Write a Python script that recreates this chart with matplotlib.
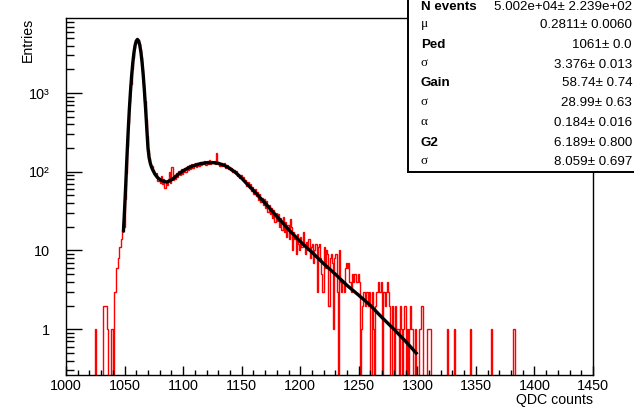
import numpy as np
import matplotlib
matplotlib.use("Agg")
import matplotlib.pyplot as plt
from matplotlib.patches import Rectangle
from matplotlib.ticker import FixedLocator, FixedFormatter, NullFormatter

plt.rcParams['font.family'] = ['Liberation Sans', 'DejaVu Sans']

# ---------------- data ----------------
hist_start = 1024  # first bin lower edge of `counts` (bin width 1)
counts = [
    0, 1, 0, 0, 0, 0, 0, 0, 2, 2,            # 1024-1033
    2, 1, 0, 0, 1, 1, 0, 3, 3, 6,            # 1034-1043
    8, 11, 11, 14, 17, 20, 45, 97, 205, 420,  # 1044-1053
    780, 1290, 2010, 2800, 3680, 4330, 4760, 4730, 4380, 3640,  # 1054-1063
    2850, 1980, 1310, 790, 470, 285, 190, 148, 126, 120,  # 1064-1073
    104, 95, 88, 97, 76, 84, 72, 88, 70, 81,  # 1074-1083
    63, 77, 68, 82, 100, 71, 115, 78, 92, 80,  # 1084-1093
    96, 86, 101, 90, 108, 94, 99, 112, 98, 118,  # 1094-1103
    104, 121, 109, 126, 111, 117, 130, 114, 128, 119,  # 1104-1113
    135, 121, 133, 124, 138, 122, 136, 127, 140, 126,  # 1114-1123
    134, 129, 139, 124, 172, 126, 133, 120, 131, 118,  # 1124-1133
    126, 129, 113, 122, 108, 116, 104, 112, 99, 106,  # 1134-1143
    96, 101, 89, 95, 84, 90, 78, 86, 74, 79,  # 1144-1153
    66, 75, 62, 70, 57, 64, 52, 61, 49, 56,  # 1154-1163
    44, 52, 41, 47, 38, 45, 35, 42, 31, 38,  # 1164-1173
    29, 35, 26, 33, 23, 30, 24, 29, 20, 26,  # 1174-1183
    18, 27, 17, 23, 15, 21, 14, 25, 20, 10,  # 1184-1193
    17, 14, 9, 16, 12, 10, 15, 11, 17, 12,   # 1194-1203
    9, 13, 10, 14, 8, 11, 12, 7, 10, 12,     # 1204-1213
    3, 11, 12, 8, 5, 3, 11, 6, 10, 9,        # 1214-1223
    2, 8, 9, 7, 1, 8, 9, 3, 0, 10,           # 1224-1233
    4, 3, 4, 3, 6, 7, 6, 7, 4, 3,            # 1234-1243
    5, 4, 5, 5, 4, 5, 4, 0, 1, 2,            # 1244-1253
    3, 2, 3, 3, 2, 3, 0, 3, 1, 0,            # 1254-1263
    2, 3, 4, 3, 3, 4, 0, 3, 2, 3,            # 1264-1273
    4, 3, 2, 0, 2, 1, 0, 2, 1, 1,            # 1274-1283
    0, 2, 1, 0, 1, 2, 0, 1, 0, 1,            # 1284-1293
    2, 1, 0, 0, 1, 0, 0, 1, 1, 2,            # 1294-1303
    2, 0, 0, 0, 1, 1, 1, 1, 0, 0,            # 1304-1313
]
tail_bins = [1325, 1331, 1345, 1363, 1382]
tail_counts = [1, 1, 1, 1, 1]

# fit curve
curve_x = [1049, 1050, 1051, 1052, 1053, 1054, 1055, 1056, 1057, 1058,
           1059, 1060, 1061, 1062, 1063, 1064, 1065, 1066, 1067, 1068,
           1069, 1070, 1071, 1072, 1073, 1074, 1076, 1078, 1080, 1083,
           1086, 1089, 1092, 1096, 1100, 1105, 1110, 1115, 1120, 1125,
           1130, 1135, 1140, 1145, 1150, 1155, 1160, 1165, 1170, 1175,
           1180, 1185, 1190, 1195, 1200, 1210, 1220, 1230, 1240, 1250,
           1260, 1270, 1280, 1290, 1300]
curve_y = [17, 33, 68, 150, 310, 590, 1020, 1630, 2400, 3250,
           4040, 4590, 4800, 4600, 4050, 3270, 2420, 1650, 1040, 620,
           350, 200, 150, 128, 115, 106, 93, 85, 80, 76,
           74, 77, 83, 93, 103, 113, 121, 127, 130, 131,
           128, 121, 110, 97, 83, 69, 58, 48, 40, 33,
           27, 22.5, 18.5, 15.5, 13, 9.5, 6.8, 5.0, 3.6, 2.7,
           2.0, 1.4, 1.0, 0.7, 0.48]

stat_labels = ["N events", "\u03bc", "Ped", "\u03c3", "Gain", "\u03c3", "\u03b1", "G2", "\u03c3"]
stat_values = ["5.002e+04\u00b1 2.239e+02", "0.2811\u00b1 0.0060", "1061\u00b1 0.0",
               "3.376\u00b1 0.013", "58.74\u00b1 0.74", "28.99\u00b1 0.63",
               "0.184\u00b1 0.016", "6.189\u00b1 0.800", "8.059\u00b1 0.697"]

x_min, x_max = 1000, 1450
y_min, y_max = 0.262, 8980

# ---------------- figure ----------------
W, H = 634, 413
fig = plt.figure(figsize=(W / 100, H / 100), dpi=100)
ax = fig.add_axes([66 / W, 1 - 375 / H, (593 - 66) / W, (375 - 18) / H])

full = np.zeros(x_max - x_min)
full[hist_start - x_min: hist_start - x_min + len(counts)] = counts
for b, c in zip(tail_bins, tail_counts):
    full[b - x_min] = c
edges = np.arange(x_min, x_max + 1)
draw_vals = np.where(full > 0, full, 1e-3)
ax.stairs(draw_vals, edges, color='#ff0000', lw=1.0, baseline=None)

ax.plot(curve_x, curve_y, color='black', lw=2.4, solid_capstyle='butt')

ax.set_yscale('log')
ax.set_xlim(x_min, x_max)
ax.set_ylim(y_min, y_max)

# ticks (ROOT style)
ax.xaxis.set_major_locator(FixedLocator(np.arange(1000, 1451, 50)))
ax.xaxis.set_minor_locator(FixedLocator(np.arange(1000, 1451, 10)))
ax.yaxis.set_major_locator(FixedLocator([1, 10, 100, 1000]))
ax.yaxis.set_major_formatter(FixedFormatter(["1", "10", "10\u00b2", "10\u00b3"]))
minors = [m * 10.0 ** e for e in range(-1, 4) for m in range(2, 10)]
ax.yaxis.set_minor_locator(FixedLocator(minors))
ax.yaxis.set_minor_formatter(NullFormatter())
ax.tick_params(axis='x', which='major', direction='in', length=6.5, width=1.0,
               labelsize=10.4, pad=3, top=False)
ax.tick_params(axis='x', which='minor', direction='in', length=3.3, width=1.0, top=False)
ax.tick_params(axis='y', which='major', direction='in', length=11.5, width=1.0,
               labelsize=10.4, pad=11.5, right=False)
ax.tick_params(axis='y', which='minor', direction='in', length=5.8, width=1.0, right=False)
for s in ax.spines.values():
    s.set_linewidth(1.0)

fig.text(27.5 / W, 1 - 18 / H, "Entries", rotation=90, ha='center', va='top', fontsize=10.2)
fig.text(593 / W, 1 - 400 / H, "QDC counts", ha='right', va='center', fontsize=10.2)

# ---------------- stats box ----------------
bx0, by1 = 407, 173
sax = fig.add_axes([bx0 / W, 1 - by1 / H, (W - bx0) / W, by1 / H])
sax.set_xlim(bx0, W)
sax.set_ylim(by1, 0)
sax.axis('off')
sax.add_patch(Rectangle((bx0 + 0.8, -5), 300, by1 - 0.8 + 5 - 0.5, facecolor='white',
                        edgecolor='black', lw=1.4, clip_on=False))
row_y = [7, 25.5, 45, 64.5, 83.5, 103, 123, 142.5, 162]
for lab, val, yy in zip(stat_labels, stat_values, row_y):
    if lab in ("\u03bc", "\u03c3", "\u03b1"):
        sax.text(421, yy - 1, lab, ha='left', va='center', fontsize=9.5,
                 family=['Liberation Serif', 'DejaVu Serif'])
    else:
        sax.text(421, yy, lab, ha='left', va='center', fontsize=9.6, fontweight='bold')
    sax.text(632, yy, val, ha='right', va='center', fontsize=9.6)

fig.savefig("out.png", dpi=100)
